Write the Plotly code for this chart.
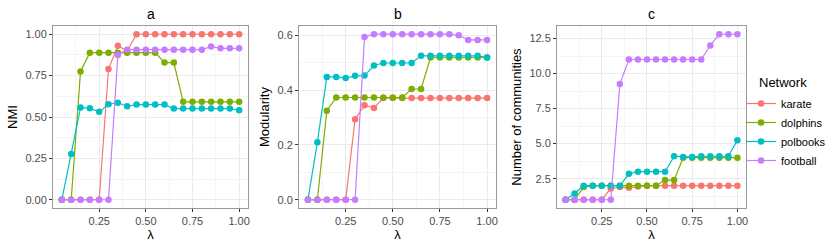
import plotly.graph_objects as go

lam = [0.05, 0.10, 0.15, 0.20, 0.25, 0.30, 0.35, 0.40, 0.45, 0.50,
       0.55, 0.60, 0.65, 0.70, 0.75, 0.80, 0.85, 0.90, 0.95, 1.00]
networks = ["karate", "dolphins", "polbooks", "football"]
colors = ["#F8766D", "#7CAE00", "#00BFC4", "#C77CFF"]

nmi_karate = [0, 0, 0, 0, 0, 0.79, 0.93, 0.90, 1, 1, 1, 1, 1, 1, 1, 1, 1, 1, 1, 1]
nmi_dolphins = [0, 0, 0.775, 0.889, 0.889, 0.889, 0.889, 0.889, 0.889, 0.889,
                0.889, 0.829, 0.829, 0.592, 0.592, 0.592, 0.592, 0.592, 0.592, 0.592]
nmi_polbooks = [0, 0.276, 0.557, 0.553, 0.531, 0.577, 0.586, 0.565, 0.575, 0.575,
                0.575, 0.575, 0.551, 0.551, 0.551, 0.551, 0.551, 0.551, 0.551, 0.541]
nmi_football = [0, 0, 0, 0, 0, 0, 0.875, 0.907, 0.907, 0.907, 0.907, 0.907, 0.907,
                0.907, 0.907, 0.907, 0.926, 0.915, 0.915, 0.915]

mod_karate = [0, 0, 0, 0, 0, 0.294, 0.345, 0.335, 0.371, 0.371, 0.371, 0.371, 0.371,
              0.371, 0.371, 0.371, 0.371, 0.371, 0.371, 0.371]
mod_dolphins = [0, 0, 0.325, 0.373, 0.373, 0.373, 0.373, 0.373, 0.373, 0.373, 0.373,
                0.404, 0.404, 0.519, 0.519, 0.519, 0.519, 0.519, 0.519, 0.519]
mod_polbooks = [0, 0.210, 0.448, 0.448, 0.444, 0.452, 0.453, 0.490, 0.499, 0.499, 0.499,
                0.499, 0.525, 0.525, 0.525, 0.525, 0.525, 0.525, 0.525, 0.519]
mod_football = [0, 0, 0, 0, 0, 0, 0.594, 0.604, 0.604, 0.604, 0.604, 0.604, 0.604,
                0.604, 0.604, 0.604, 0.600, 0.583, 0.583, 0.583]

com_karate = [1, 1, 1, 1, 1, 1.8, 1.9, 1.85, 1.95, 2, 2, 2, 2, 2, 2, 2, 2, 2, 2, 2]
com_dolphins = [1, 1, 1.9, 2, 2, 2, 2, 2, 2, 2, 2, 2.4, 2.4, 4.0, 4.0, 4.0, 4.0, 4.0, 4.0, 4.0]
com_polbooks = [1, 1.45, 2, 2, 2, 2, 2, 2.85, 3, 3, 3, 3, 4.1, 4.05, 4.05, 4.1, 4.1, 4.1, 4.1, 5.25]
com_football = [1, 1, 1, 1, 1, 1, 9.25, 11, 11, 11, 11, 11, 11, 11, 11, 11, 12, 12.8, 12.8, 12.8]

panels = [
    ("a", "NMI", [nmi_karate, nmi_dolphins, nmi_polbooks, nmi_football]),
    ("b", "Modularity", [mod_karate, mod_dolphins, mod_polbooks, mod_football]),
    ("c", "Number of communities", [com_karate, com_dolphins, com_polbooks, com_football]),
]

W, H = 830, 249


def px(x):
    return x / W


def py(y):
    return 1 - y / H


xdom_px = [(53, 248), (299, 496), (557, 746)]
ydom = [py(208), py(26)]
yax_cfg = [
    dict(range=[-0.05, 1.05], dtick=0.25, tick0=0, tickformat=".2f", minor_dtick=0.125),
    dict(range=[-0.0302, 0.634], dtick=0.2, tick0=0, tickformat=".1f", minor_dtick=0.1),
    dict(range=[0.41, 13.39], dtick=2.5, tick0=0, tickformat=".1f", minor_dtick=1.25),
]

fig = go.Figure()
font = "Liberation Sans, Arial, sans-serif"
border = "#999999"
grid = "#ebebeb"
minorgrid = "#f5f5f5"

for i, (title, ylab, series) in enumerate(panels):
    xa = "x" if i == 0 else f"x{i+1}"
    ya = "y" if i == 0 else f"y{i+1}"
    for name, col, vals in zip(networks, colors, series):
        fig.add_trace(go.Scatter(
            x=lam, y=vals, mode="lines+markers", name=name,
            line=dict(color=col, width=1.2), marker=dict(color=col, size=6.5),
            xaxis=xa, yaxis=ya, showlegend=(i == 0), legendgroup=name,
        ))
    xk = "xaxis" if i == 0 else f"xaxis{i+1}"
    yk = "yaxis" if i == 0 else f"yaxis{i+1}"
    l, r = xdom_px[i]
    fig.layout[xk] = dict(
        domain=[px(l), px(r)], anchor=ya, range=[0.0025, 1.0475],
        tick0=0, dtick=0.25, tickformat=".2f", automargin=False,
        showgrid=True, gridcolor=grid, gridwidth=1,
        minor=dict(dtick=0.125, tick0=0, showgrid=True, gridcolor=minorgrid, gridwidth=0.6),
        showline=True, mirror=True, linecolor=border, linewidth=1,
        ticks="outside", ticklen=3, tickcolor="#333333",
        tickfont=dict(size=11, color="#4d4d4d", family=font),
        title=dict(text="λ", font=dict(size=13, color="#000", family=font), standoff=2),
        zeroline=False,
    )
    yc = yax_cfg[i]
    fig.layout[yk] = dict(
        domain=ydom, anchor=xa, range=yc["range"], tick0=yc["tick0"], dtick=yc["dtick"],
        tickformat=yc["tickformat"], automargin=False,
        showgrid=True, gridcolor=grid, gridwidth=1,
        minor=dict(dtick=yc["minor_dtick"], tick0=0, showgrid=True, gridcolor=minorgrid, gridwidth=0.6),
        showline=True, mirror=True, linecolor=border, linewidth=1,
        ticks="outside", ticklen=3, tickcolor="#333333",
        tickfont=dict(size=11, color="#4d4d4d", family=font),
        title=dict(text=ylab, font=dict(size=13, color="#000", family=font), standoff=4),
        zeroline=False,
    )
    fig.add_annotation(
        text=title, x=px((l + r) / 2), y=py(14), xref="paper", yref="paper",
        showarrow=False, font=dict(size=14, color="#000", family=font),
        xanchor="center", yanchor="middle",
    )

fig.add_annotation(
    text="Network", x=px(757), y=py(83), xref="paper", yref="paper",
    showarrow=False, font=dict(size=13, color="#000", family=font),
    xanchor="left", yanchor="middle",
)

fig.update_layout(
    width=W, height=H, margin=dict(l=0, r=0, t=0, b=0, autoexpand=False),
    paper_bgcolor="white", plot_bgcolor="white",
    font=dict(family=font),
    legend=dict(
        font=dict(size=11, color="#000", family=font),
        x=px(741), y=py(89), xanchor="left", yanchor="top",
        tracegroupgap=0, itemwidth=30, bgcolor="rgba(0,0,0,0)",
    ),
)

fig.write_html(
    "out.html",
    config={"displayModeBar": False},
    post_script="document.body.style.margin='0';document.body.style.overflow='hidden';",
)
